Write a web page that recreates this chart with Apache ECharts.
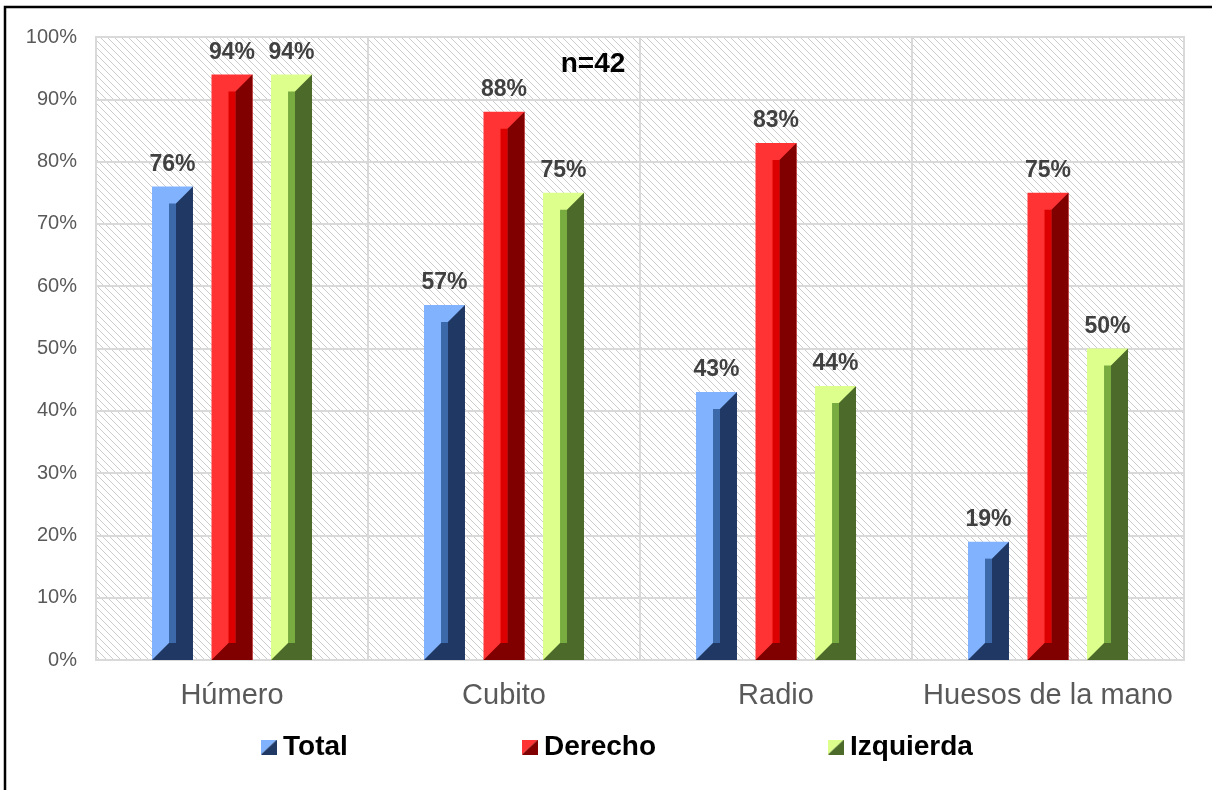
<!DOCTYPE html>
<html>
<head>
<meta charset="utf-8">
<script src="https://cdn.jsdelivr.net/npm/echarts@6/dist/echarts.min.js"></script>
<style>
html,body{margin:0;padding:0;background:#fff;}
#chart{width:1212px;height:790px;}
</style>
</head>
<body>
<div id="chart"></div>
<script>
const categories = ['Húmero', 'Cubito', 'Radio', 'Huesos de la mano'];
const seriesNames = ['Total', 'Derecho', 'Izquierda'];
const totalValues = [76, 57, 43, 19];
const derechoValues = [94, 88, 83, 75];
const izquierdaValues = [94, 75, 44, 50];
const noteText = 'n=42';

const FONT = '"Liberation Sans", Arial, sans-serif';
const palettes = [
  { light: '#80B2FD', mid: '#3C69AA', dark: '#203864' },
  { light: '#FF3333', mid: '#DD0000', dark: '#800000' },
  { light: '#DDFF8C', mid: '#78AB40', dark: '#4C6B2A' }
];

function makePattern() {
  const s = 7;
  const c = document.createElement('canvas');
  c.width = s; c.height = s;
  const ctx = c.getContext('2d');
  ctx.fillStyle = '#ffffff';
  ctx.fillRect(0, 0, s, s);
  ctx.strokeStyle = '#CCCCCC';
  ctx.lineWidth = 1;
  ctx.beginPath();
  ctx.moveTo(-1, -1); ctx.lineTo(s + 1, s + 1);
  ctx.moveTo(-1, s - 1); ctx.lineTo(1, s + 1);
  ctx.moveTo(s - 1, -1); ctx.lineTo(s + 1, 1);
  ctx.stroke();
  return c;
}

function makeIcon(p) {
  const c = document.createElement('canvas');
  c.width = 16; c.height = 15;
  const ctx = c.getContext('2d');
  ctx.fillStyle = p.light;
  ctx.beginPath(); ctx.moveTo(0, 0); ctx.lineTo(16, 0); ctx.lineTo(0, 15); ctx.closePath(); ctx.fill();
  ctx.fillStyle = p.dark;
  ctx.beginPath(); ctx.moveTo(16, 0); ctx.lineTo(16, 15); ctx.lineTo(0, 15); ctx.closePath(); ctx.fill();
  return 'image://' + c.toDataURL();
}

function makeRender(idx) {
  const p = palettes[idx];
  return function (params, api) {
    const cat = api.value(0);
    const val = api.value(1);
    const top = api.coord([cat, val]);
    const base = api.coord([cat, 0]);
    const bw = api.size([1, 0])[0];
    const cx = top[0] + (idx - 1) * 0.2188 * bw;
    const w = bw * 0.1507;
    const x0 = cx - w / 2, x1 = cx + w / 2;
    const yT = top[1], yB = base[1];
    const d = w * 0.415;
    return {
      type: 'group',
      children: [
        { type: 'rect', shape: { x: x0, y: yT, width: w, height: yB - yT }, style: { fill: p.light } },
        { type: 'rect', shape: { x: x0 + d, y: yT + d, width: w - 2 * d, height: Math.max(0, yB - yT - 2 * d) }, style: { fill: p.mid } },
        { type: 'polygon', shape: { points: [[x1 - d, yT + d], [x1, yT], [x1, yB], [x0, yB], [x0 + d, yB - d], [x1 - d, yB - d]] }, style: { fill: p.dark } },
        { type: 'text', x: cx, y: yT - 22, style: { text: val + '%', align: 'center', verticalAlign: 'middle', font: 'bold 23px ' + FONT, fill: '#404040' } }
      ]
    };
  };
}

const valueSets = [totalValues, derechoValues, izquierdaValues];
const series = seriesNames.map(function (name, i) {
  return {
    name: name,
    type: 'custom',
    renderItem: makeRender(i),
    itemStyle: { color: palettes[i].light },
    encode: { x: 0, y: 1 },
    data: valueSets[i].map(function (v, k) { return [k, v]; }),
    z: 5
  };
});

const legendLefts = [261, 522, 828];
const legends = seriesNames.map(function (name, i) {
  return {
    left: legendLefts[i],
    top: 733,
    padding: 0,
    itemWidth: 16,
    itemHeight: 15,
    selectedMode: false,
    data: [{ name: name, icon: makeIcon(palettes[i]) }],
    textStyle: { fontFamily: FONT, fontWeight: 'bold', fontSize: 28, color: '#000', padding: [0, 0, 0, 1] }
  };
});

const chart = echarts.init(document.getElementById('chart'), null, { renderer: 'canvas' });
chart.setOption({
  animation: false,
  backgroundColor: '#ffffff',
  grid: {
    left: 96, right: 28, top: 37, bottom: 130,
    show: true,
    backgroundColor: { image: makePattern(), repeat: 'repeat' },
    borderColor: '#D9D9D9',
    borderWidth: 2
  },
  legend: legends,
  xAxis: {
    type: 'category',
    data: categories,
    axisLine: { show: true, lineStyle: { color: '#D9D9D9', width: 2 } },
    axisTick: { show: false },
    splitLine: { show: true, interval: 0, lineStyle: { color: '#D9D9D9', width: 2 } },
    axisLabel: { interval: 0, fontFamily: FONT, fontSize: 29, color: '#595959', margin: 21 }
  },
  yAxis: {
    type: 'value',
    min: 0, max: 100, interval: 10,
    axisLine: { show: false },
    axisTick: { show: false },
    splitLine: { show: true, lineStyle: { color: '#D9D9D9', width: 2 } },
    axisLabel: { fontFamily: FONT, fontSize: 20, color: '#595959', margin: 19, formatter: '{value}%' }
  },
  series: series,
  graphic: [
    { type: 'rect', shape: { x: 5, y: 7, width: 1230, height: 810 }, style: { fill: 'none', stroke: '#000', lineWidth: 2.5 }, z: 100 },
    { type: 'text', x: 593, y: 64, style: { text: noteText, align: 'center', verticalAlign: 'middle', font: 'bold 28px ' + FONT, fill: '#000' }, z: 100 }
  ]
});
</script>
</body>
</html>
